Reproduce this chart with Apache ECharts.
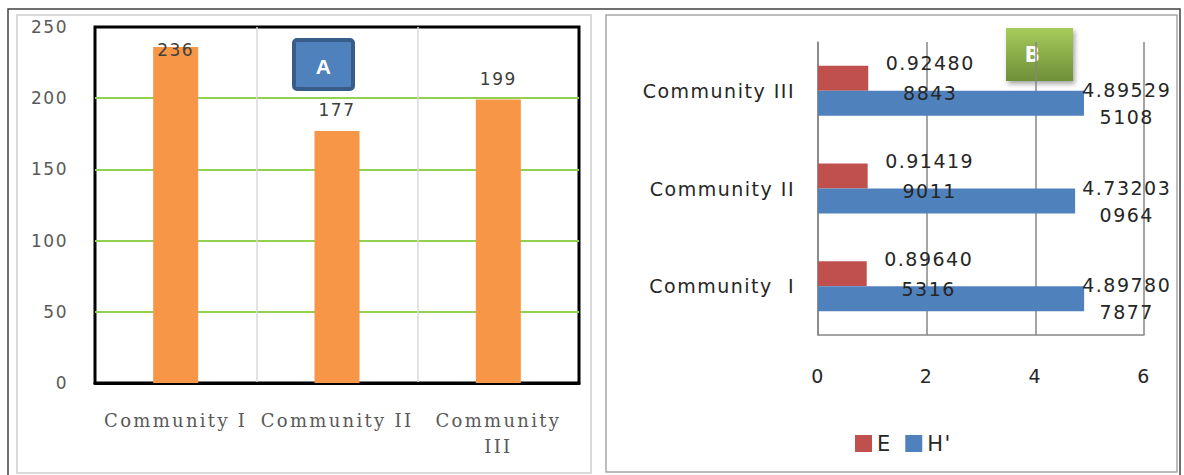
<!DOCTYPE html>
<html><head><meta charset="utf-8">
<script src="https://cdn.jsdelivr.net/npm/echarts@6/dist/echarts.min.js"></script>
<style>
html,body{margin:0;padding:0;background:#fff;}
#chart{width:1184px;height:475px;}
#chart text{letter-spacing:1.5px;}
#chart text[style*="Serif"]{letter-spacing:2.3px;}
</style></head><body>
<div id="chart"></div>
<script>
// ---- data ----
const countCategories = ['Community I', 'Community II', 'Community III'];
const countValues = [236, 177, 199];
const indexCategories = ['Community  I', 'Community II', 'Community III'];
const evennessValues = [0.896405316, 0.914199011, 0.924808843];   // E
const shannonValues = [4.897807877, 4.732030964, 4.895295108];    // H'
const seriesNames = ['E', "H'"];
const panelNames = ['A', 'B'];

// ---- layout constants ----
const GRID_A = {left: 95, right: 605, top: 27, bottom: 92};
const GRID_B = {left: 818, right: 40, top: 42, bottom: 140};
const LABEL_RIGHT = 1166;

const splitNum = v => { const s = String(v); return s.slice(0, 7) + '\n' + s.slice(7); };

const chart = echarts.init(document.getElementById('chart'), null, {renderer: 'svg'});
chart.setOption({
  animation: false,
  backgroundColor: '#fff',
  grid: [
    Object.assign({show: true, borderColor: '#000', borderWidth: 3, backgroundColor: 'transparent'}, GRID_A),
    Object.assign({show: false}, GRID_B)
  ],
  legend: {
    data: seriesNames, left: 850, top: 428, icon: 'rect',
    itemWidth: 17, itemHeight: 17, itemGap: 15,
    textStyle: {fontFamily: 'DejaVu Sans', fontSize: 21, color: '#262626'}
  },
  xAxis: [
    {
      type: 'category', gridIndex: 0, data: countCategories,
      axisLine: {show: true, lineStyle: {color: '#000', width: 3}},
      axisTick: {show: false},
      splitLine: {show: true, showMinLine: false, showMaxLine: false, lineStyle: {color: '#D9D9D9', width: 1.5}},
      axisLabel: {
        interval: 0, margin: 24, lineHeight: 26,
        fontFamily: 'DejaVu Serif', fontSize: 18, color: '#595959',
        formatter: v => v.length > 12 ? v.replace(' ', '\n') : v
      }
    },
    {
      type: 'value', gridIndex: 1, min: 0, max: 6, interval: 2,
      axisLine: {show: true, lineStyle: {color: '#868686', width: 1.5}},
      axisTick: {show: false},
      splitLine: {show: true, lineStyle: {color: '#868686', width: 1.5}},
      axisLabel: {margin: 31, fontFamily: 'DejaVu Sans', fontSize: 19, color: '#262626'}
    }
  ],
  yAxis: [
    {
      type: 'value', gridIndex: 0, min: 0, max: 250, interval: 50,
      axisLine: {show: false}, axisTick: {show: false},
      splitLine: {show: true, showMaxLine: false, lineStyle: {color: '#92D050', width: 2}},
      axisLabel: {margin: 27, fontFamily: 'DejaVu Sans', fontSize: 17, color: '#595959'}
    },
    {
      type: 'category', gridIndex: 1, data: indexCategories,
      axisLine: {show: true, lineStyle: {color: '#868686', width: 1.5}},
      axisTick: {show: false},
      splitLine: {show: false},
      axisLabel: {margin: 23, fontFamily: 'DejaVu Sans', fontSize: 19, color: '#262626'}
    }
  ],
  series: [
    {
      type: 'bar', xAxisIndex: 0, yAxisIndex: 0, data: countValues,
      barWidth: 45, itemStyle: {color: '#F79646'},
      label: {show: true, position: 'top', distance: 12, fontFamily: 'DejaVu Sans', fontSize: 17, color: '#404040'},
      labelLayout: p => {
        const r = p.labelRect;
        if (r.y < GRID_A.top) return {x: r.x + r.width / 2, y: GRID_A.top + 23, align: 'center', verticalAlign: 'middle'};
        return {};
      }
    },
    {
      name: seriesNames[0], type: 'bar', xAxisIndex: 1, yAxisIndex: 1, data: evennessValues,
      barWidth: 25, barGap: '0%', itemStyle: {color: '#C0504D'},
      label: {show: true, position: 'right', align: 'center', distance: 62, lineHeight: 30,
        fontFamily: 'DejaVu Sans', fontSize: 19, color: '#262626', formatter: p => splitNum(p.value)}
    },
    {
      name: seriesNames[1], type: 'bar', xAxisIndex: 1, yAxisIndex: 1, data: shannonValues,
      barWidth: 25, barGap: '0%', itemStyle: {color: '#4F81BD'},
      label: {show: true, position: 'right', align: 'center', distance: 60, lineHeight: 27,
        fontFamily: 'DejaVu Sans', fontSize: 19, color: '#262626', formatter: p => splitNum(p.value)},
      labelLayout: p => {
        const r = p.labelRect;
        const cx = Math.min(r.x + r.width / 2, LABEL_RIGHT - r.width / 2);
        return {x: cx, y: r.y + r.height / 2, align: 'center', verticalAlign: 'middle'};
      }
    }
  ],
  graphic: [
    {type: 'rect', z: -10, shape: {x: 8, y: 9, width: 1172, height: 470}, style: {fill: 'none', stroke: '#404040', lineWidth: 1.5}},
    {type: 'rect', z: -10, shape: {x: 17, y: 15, width: 574, height: 458}, style: {fill: 'none', stroke: '#D9D9D9', lineWidth: 2}},
    {type: 'rect', z: -10, shape: {x: 606, y: 15, width: 571, height: 457}, style: {fill: 'none', stroke: '#A6A6A6', lineWidth: 1.5}},
    {type: 'group', z: 20, children: [
      {type: 'rect', shape: {x: 294, y: 40, width: 59, height: 49, r: 3},
        style: {fill: '#4F81BD', stroke: '#385D8A', lineWidth: 4}},
      {type: 'text', x: 324, y: 66, style: {text: panelNames[0], fill: '#fff', font: 'bold 21px "Liberation Sans"', align: 'center', verticalAlign: 'middle'}}
    ]},
    {type: 'group', z: 20, children: [
      {type: 'rect', shape: {x: 1006, y: 28, width: 67, height: 53},
        style: {fill: new echarts.graphic.LinearGradient(0, 0, 0, 1, [{offset: 0, color: '#A8CB5C'}, {offset: 1, color: '#6F8F37'}]),
          shadowBlur: 5, shadowColor: 'rgba(0,0,0,0.35)', shadowOffsetX: 2, shadowOffsetY: 3}},
      {type: 'text', x: 1033, y: 54, style: {text: panelNames[1], fill: '#fff', font: 'bold 22px "DejaVu Sans Condensed"', align: 'center', verticalAlign: 'middle'}}
    ]}
  ]
});
</script>
</body></html>
